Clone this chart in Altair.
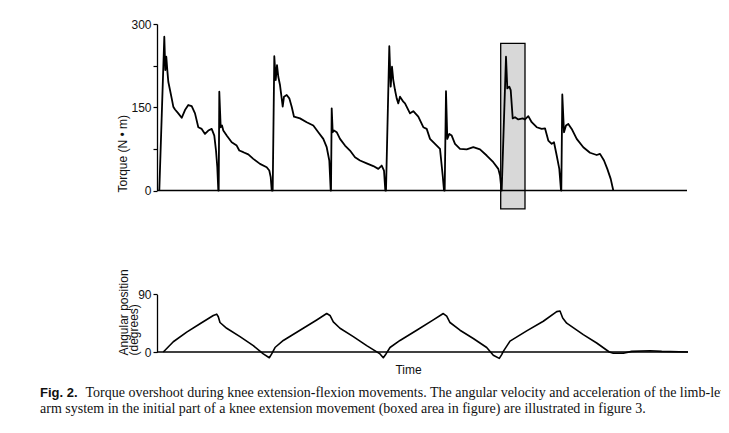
import altair as alt
import pandas as pd

# ---- data (time in arbitrary units) ----
torque_t = [2.3, 7.3, 8.3, 9.3, 10.3, 11.3, 13, 14.7, 16.3, 18, 21.3, 24.7, 28, 31.3, 34.7, 38, 41.3, 44.7, 48, 51.3, 54.7, 57.3, 59, 60.3, 61.3,
            61.7, 62.3, 63.7, 65, 66.3, 69.7, 74.7, 79.7, 82.3, 86.3, 91.3, 96.3, 103, 109.7, 112.3, 113.7, 114.7,
            115.7, 117.3, 118.7, 120, 121.3, 123, 124.7, 125.7, 127, 129.7, 132.3, 134.7, 137, 143, 149.7, 156.3, 161.3, 166.3, 169.7, 172.3, 173.7,
            174, 174.7, 175.7, 177, 179.7, 183, 188, 193, 198, 203, 209.7, 216.3, 221.3, 224.7, 227, 228.3,
            229, 232.3, 233.7, 235, 236.3, 238, 239.7, 241.3, 243, 246.3, 248, 253, 256.3, 261.3, 266.3, 269.7, 273, 278, 283, 285.7, 287,
            287.7, 289, 290.3, 292.3, 294.7, 298, 303, 309.7, 316.3, 323, 329.7, 336.3, 341.3, 343, 344.5,
            344.7, 349, 350.3, 352.3, 353.7, 355.7, 358, 361.3, 365.7, 368, 371.3, 374.7, 379.7, 384.7, 388, 391.3, 394.7, 397, 399.7, 402.3, 404,
            404.3, 405.3, 407, 409, 411.3, 414.7, 419.7, 426.3, 433, 439.7, 443, 447, 450.3, 453.7, 456.3]
torque_v = [0, 277, 217, 241, 217, 196, 181, 166, 151, 146, 139, 131, 145, 154, 152, 139, 114, 111, 102, 108, 111, 99, 72, 42, 0,
            0, 178, 114, 117, 108, 99, 87, 81, 72, 69, 65, 57, 48, 42, 36, 24, 0,
            0, 242, 199, 226, 205, 190, 166, 151, 169, 172, 166, 151, 133, 130, 123, 117, 105, 93, 78, 54, 0,
            0, 148, 105, 108, 105, 93, 81, 72, 60, 54, 49, 44, 39, 45, 36, 0,
            0, 260, 187, 223, 199, 181, 166, 157, 169, 160, 157, 139, 143, 133, 114, 111, 93, 84, 75, 27, 0,
            0, 179, 93, 102, 99, 84, 75, 74, 78, 74, 63, 51, 39, 27, 0,
            0, 241, 184, 187, 181, 130, 132, 128, 130, 128, 134, 123, 114, 111, 112, 90, 84, 87, 63, 39, 0,
            0, 173, 105, 117, 120, 111, 93, 78, 68, 64, 66, 54, 39, 21, 0]

angle_t = [6.3, 16.3, 29.7, 43, 56.3, 59.7, 61.3, 63, 69.7, 83, 96.3, 106.3, 112.3, 114.7, 118, 126.3, 143, 159.7, 169.7,
           173, 176.3, 183, 196.3, 209.7, 223, 226.3, 229, 233, 243, 259.7, 276.3, 286.3,
           289.7, 293, 303, 316.3, 329.7, 336.3, 342.3, 344.7, 346.3, 353, 369.7, 386.3, 399.7, 403,
           405.7, 409.7, 426.3, 439.7, 452.3, 456.3, 466.3, 474.7, 493, 504.7, 531]
angle_v = [0, 16, 31, 44, 57, 59, 55, 46, 37, 24, 10, -3, -9, -3, 7, 18, 34, 50, 60,
           57, 47, 37, 24, 10, -3, -9, -3, 7, 18, 34, 50, 60,
           56, 46, 34, 21, 7, -5, -10, -4, 1, 17, 33, 48, 63, 64,
           53, 45, 27, 14, 0, -2, -2, 1, 2, 1, 0]

box_t = [343.7, 368.0]
box_v = [-33, 265]
time_span = [0, 530]

caption_label = "Fig. 2."
caption_lines = [
    "Torque overshoot during knee extension-flexion movements. The angular velocity and acceleration of the limb-lever",
    "arm system in the initial part of a knee extension movement (boxed area in figure) are illustrated in figure 3.",
]

torque_df = pd.DataFrame({"time": torque_t, "torque": torque_v})
angle_df = pd.DataFrame({"time": angle_t, "angle": angle_v})
box_df = pd.DataFrame({"time": [box_t[0]], "t2": [box_t[1]], "torque": [box_v[0]], "v2": [box_v[1]]})
base_df = pd.DataFrame({"time": [time_span[0]], "t2": [time_span[1]], "torque": [0]})
base2_df = pd.DataFrame({"time": [time_span[0]], "t2": [531], "angle": [0]})

FONT = "Liberation Sans"
xscale = alt.Scale(domain=time_span, nice=False, zero=False)
tscale = alt.Scale(domain=[0, 300], range=[166.5, 0], nice=False)
ascale = alt.Scale(domain=[0, 90], range=[328, 270.3], nice=False)

torque_axis = alt.Axis(
    values=[0, 75, 150, 225, 300], labelExpr="datum.value % 150 == 0 ? datum.label : ''",
    grid=False, domainColor="black", domainWidth=1.3, tickColor="black", tickWidth=1.2, tickSize=4,
    labelFont=FONT, labelFontSize=12, labelColor="#111", labelPadding=2,
    title="Torque (N • m)", titleFont=FONT, titleFontSize=12, titleFontWeight="normal", titleColor="#111",
    titleAngle=270, titleAlign="left", titleBaseline="middle", titleX=-35, titleY=168,
)
angle_axis = alt.Axis(
    orient="left", values=[0, 90],
    grid=False, domainColor="black", domainWidth=1.3, tickColor="black", tickWidth=1.2, tickSize=4,
    labelFont=FONT, labelFontSize=12, labelColor="#111", labelPadding=2,
    title=["Angular position", "(degrees)"], titleFont=FONT, titleFontSize=12, titleFontWeight="normal",
    titleColor="#111", titleLineHeight=10.5,
    titleAngle=270, titleAlign="left", titleBaseline="middle", titleX=-34, titleY=331,
)
time_axis = alt.Axis(
    domain=False, ticks=False, labels=False, grid=False,
    title="Time", titleFont=FONT, titleFontSize=12, titleFontWeight="normal", titleColor="#111",
    titleX=251, titleY=12, titleBaseline="top",
)

X = alt.X("time:Q", scale=xscale, axis=time_axis)

box = alt.Chart(box_df).mark_rect(fill="#d8d8d8", stroke="black", strokeWidth=1.3).encode(
    x=X, x2="t2:Q",
    y=alt.Y("torque:Q", scale=tscale, axis=torque_axis), y2="v2:Q",
)
base1 = alt.Chart(base_df).mark_rule(color="black", strokeWidth=1.3).encode(
    x=X, x2="t2:Q",
    y=alt.Y("torque:Q", scale=tscale, axis=torque_axis),
)
tline = alt.Chart(torque_df).mark_line(color="black", strokeWidth=1.8, strokeJoin="round").encode(
    x=X,
    y=alt.Y("torque:Q", scale=tscale, axis=torque_axis),
)
base2 = alt.Chart(base2_df).mark_rule(color="black", strokeWidth=1.3).encode(
    x=X, x2="t2:Q",
    y=alt.Y("angle:Q", scale=ascale, axis=angle_axis),
)
aline = alt.Chart(angle_df).mark_line(color="black", strokeWidth=1.6, strokeJoin="round").encode(
    x=X,
    y=alt.Y("angle:Q", scale=ascale, axis=angle_axis),
)

top = alt.layer(box, base1, tline)
bottom = alt.layer(base2, aline)

nb = "\u00a0"
chart = alt.layer(top, bottom).resolve_scale(y="independent").properties(
    width=530, height=328,
    background="white",
    autosize=alt.AutoSizeParams(type="none"),
    padding={"left": 149, "top": 16, "right": 34, "bottom": 64},
    title=alt.TitleParams(
        text=caption_label, orient="bottom", anchor="start", frame="group",
        font=FONT, fontSize=13, fontWeight="bold", color="#111",
        dx=-117, offset=12,
        subtitle=["\u200b" + nb * 13 + caption_lines[0], caption_lines[1]],
        subtitleFont="Liberation Serif", subtitleFontSize=14, subtitleColor="#111",
        subtitleLineHeight=16, subtitlePadding=-14,
    ),
).configure_view(stroke=None)

chart.save("out.html", embed_options={"renderer": "svg", "actions": False})
